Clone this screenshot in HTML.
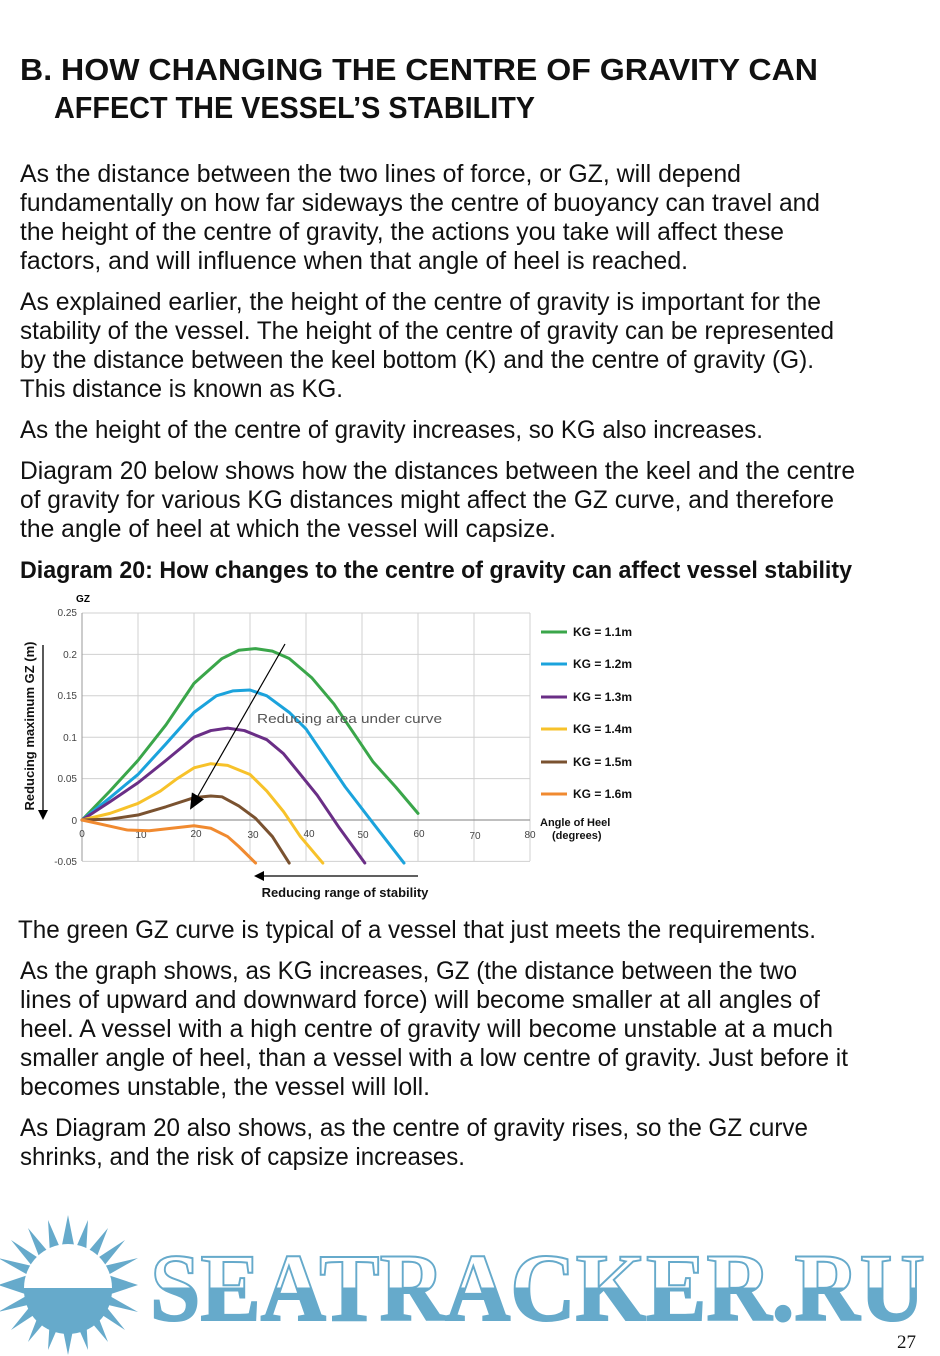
<!DOCTYPE html>
<html><head><meta charset="utf-8"><style>html,body{margin:0;padding:0;background:#fff}svg{display:block}</style></head><body>
<svg width="940" height="1356" viewBox="0 0 940 1356" xmlns="http://www.w3.org/2000/svg">
<defs>
<linearGradient id="lg" x1="0" y1="0" x2="0" y2="1"><stop offset="0.5" stop-color="#fff"/><stop offset="0.5" stop-color="#66aacb"/></linearGradient>
<marker id="ah" markerWidth="10" markerHeight="10" refX="8" refY="5" orient="auto" markerUnits="userSpaceOnUse"><path d="M0,0 L10,5 L0,10 z" fill="#000"/></marker>
<marker id="ah2" markerWidth="16" markerHeight="14" refX="14" refY="7" orient="auto" markerUnits="userSpaceOnUse"><path d="M0,0 L16,7 L0,14 z" fill="#000"/></marker>
</defs>
<g font-family="Liberation Sans, sans-serif" fill="#111">
<g font-weight="bold" font-size="31">
<text x="20" y="80" textLength="798" lengthAdjust="spacingAndGlyphs">B. HOW CHANGING THE CENTRE OF GRAVITY CAN</text>
<text x="54" y="118" textLength="481" lengthAdjust="spacingAndGlyphs">AFFECT THE VESSEL’S STABILITY</text>
</g>
<g font-size="25">
<text x="20" y="182" textLength="721" lengthAdjust="spacingAndGlyphs">As the distance between the two lines of force, or GZ, will depend</text>
<text x="20" y="211" textLength="800" lengthAdjust="spacingAndGlyphs">fundamentally on how far sideways the centre of buoyancy can travel and</text>
<text x="20" y="240" textLength="764" lengthAdjust="spacingAndGlyphs">the height of the centre of gravity, the actions you take will affect these</text>
<text x="20" y="269" textLength="668" lengthAdjust="spacingAndGlyphs">factors, and will influence when that angle of heel is reached.</text>
<text x="20" y="310" textLength="801" lengthAdjust="spacingAndGlyphs">As explained earlier, the height of the centre of gravity is important for the</text>
<text x="20" y="339" textLength="814" lengthAdjust="spacingAndGlyphs">stability of the vessel. The height of the centre of gravity can be represented</text>
<text x="20" y="368" textLength="794" lengthAdjust="spacingAndGlyphs">by the distance between the keel bottom (K) and the centre of gravity (G).</text>
<text x="20" y="397" textLength="323" lengthAdjust="spacingAndGlyphs">This distance is known as KG.</text>
<text x="20" y="438" textLength="743" lengthAdjust="spacingAndGlyphs">As the height of the centre of gravity increases, so KG also increases.</text>
<text x="20" y="479" textLength="835" lengthAdjust="spacingAndGlyphs">Diagram 20 below shows how the distances between the keel and the centre</text>
<text x="20" y="508" textLength="814" lengthAdjust="spacingAndGlyphs">of gravity for various KG distances might affect the GZ curve, and therefore</text>
<text x="20" y="537" textLength="536" lengthAdjust="spacingAndGlyphs">the angle of heel at which the vessel will capsize.</text>
<text x="18" y="938" textLength="798" lengthAdjust="spacingAndGlyphs">The green GZ curve is typical of a vessel that just meets the requirements.</text>
<text x="20" y="979" textLength="777" lengthAdjust="spacingAndGlyphs">As the graph shows, as KG increases, GZ (the distance between the two</text>
<text x="20" y="1008" textLength="800" lengthAdjust="spacingAndGlyphs">lines of upward and downward force) will become smaller at all angles of</text>
<text x="20" y="1037" textLength="813" lengthAdjust="spacingAndGlyphs">heel. A vessel with a high centre of gravity will become unstable at a much</text>
<text x="20" y="1066" textLength="828" lengthAdjust="spacingAndGlyphs">smaller angle of heel, than a vessel with a low centre of gravity. Just before it</text>
<text x="20" y="1095" textLength="410" lengthAdjust="spacingAndGlyphs">becomes unstable, the vessel will loll.</text>
<text x="20" y="1136" textLength="788" lengthAdjust="spacingAndGlyphs">As Diagram 20 also shows, as the centre of gravity rises, so the GZ curve</text>
<text x="20" y="1165" textLength="445" lengthAdjust="spacingAndGlyphs">shrinks, and the risk of capsize increases.</text>
</g>
<text x="20" y="578" font-size="24" font-weight="bold" textLength="832" lengthAdjust="spacingAndGlyphs">Diagram 20: How changes to the centre of gravity can affect vessel stability</text>
</g>
<!-- chart -->
<g stroke="#d0d0d0" stroke-width="1">
<line x1="82" y1="613" x2="530" y2="613"/><line x1="82" y1="654.4" x2="530" y2="654.4"/><line x1="82" y1="695.8" x2="530" y2="695.8"/><line x1="82" y1="737.2" x2="530" y2="737.2"/><line x1="82" y1="778.6" x2="530" y2="778.6"/><line x1="82" y1="861.4" x2="530" y2="861.4"/>
<line x1="138" y1="613" x2="138" y2="861"/><line x1="194" y1="613" x2="194" y2="861"/><line x1="250" y1="613" x2="250" y2="861"/><line x1="306" y1="613" x2="306" y2="861"/><line x1="362" y1="613" x2="362" y2="861"/><line x1="418" y1="613" x2="418" y2="861"/><line x1="474" y1="613" x2="474" y2="861"/><line x1="530" y1="613" x2="530" y2="861"/>
</g>
<line x1="82" y1="613" x2="82" y2="861" stroke="#999"/>
<line x1="82" y1="820" x2="530" y2="820" stroke="#999" stroke-width="1.2"/>
<g font-family="Liberation Sans, sans-serif" font-size="10" fill="#444" text-anchor="end">
<text x="77" y="616">0.25</text><text x="77" y="658">0.2</text><text x="77" y="699">0.15</text><text x="77" y="741">0.1</text><text x="77" y="782">0.05</text><text x="77" y="824">0</text><text x="77" y="865">-0.05</text>
</g>
<g font-family="Liberation Sans, sans-serif" font-size="10" fill="#444" text-anchor="middle">
<text x="82" y="837">0</text><text x="141" y="838">10</text><text x="196" y="837">20</text><text x="253" y="838">30</text><text x="309" y="837">40</text><text x="363" y="838">50</text><text x="419" y="837">60</text><text x="475" y="839">70</text><text x="530" y="838">80</text>
</g>
<g transform="translate(82,820) scale(5.6,-828)" fill="none" stroke-width="3" stroke-linejoin="round" stroke-linecap="round">
<polyline vector-effect="non-scaling-stroke" stroke="#3aa64a" points="0,0 5,0.035 10,0.072 15,0.115 20,0.165 25,0.195 28,0.205 31,0.207 34,0.204 37,0.195 41,0.172 45,0.14 49,0.1 52,0.07 56,0.04 60,0.008"/>
<polyline vector-effect="non-scaling-stroke" stroke="#1ba3dc" points="0,0 5,0.027 10,0.055 15,0.092 20,0.13 24,0.15 27,0.156 30,0.157 33,0.15 37,0.13 40,0.11 44,0.07 47,0.04 52,-0.004 57.5,-0.052"/>
<polyline vector-effect="non-scaling-stroke" stroke="#6a2e86" points="0,0 5,0.022 10,0.045 15,0.072 20,0.1 23,0.108 26,0.111 29,0.108 33,0.097 36,0.08 39,0.055 42,0.03 46,-0.01 50.5,-0.052"/>
<polyline vector-effect="non-scaling-stroke" stroke="#f7c22a" points="0,0 5,0.008 10,0.02 14,0.035 17,0.05 20,0.063 23,0.068 26,0.066 30,0.055 33,0.035 36,0.01 39,-0.02 43,-0.052"/>
<polyline vector-effect="non-scaling-stroke" stroke="#7a5230" points="0,0 5,0.001 10,0.006 15,0.016 20,0.027 23,0.029 25,0.028 28,0.017 31,0.002 34,-0.02 37,-0.052"/>
<polyline vector-effect="non-scaling-stroke" stroke="#f08a30" points="0,0 4,-0.006 8,-0.012 12,-0.013 16,-0.01 20,-0.007 23,-0.01 26,-0.02 28,-0.032 31,-0.052"/>
</g>
<line x1="285" y1="644" x2="191" y2="808" stroke="#000" stroke-width="1.2" marker-end="url(#ah2)"/>
<text x="257" y="723" font-family="Liberation Sans, sans-serif" font-size="13" fill="#555" textLength="185" lengthAdjust="spacingAndGlyphs">Reducing area under curve</text>
<line x1="418" y1="876" x2="256" y2="876" stroke="#000" stroke-width="1.3" marker-end="url(#ah)"/>
<text x="345" y="897" text-anchor="middle" font-family="Liberation Sans, sans-serif" font-size="13" font-weight="bold" fill="#111">Reducing range of stability</text>
<text x="83" y="602" text-anchor="middle" font-family="Liberation Sans, sans-serif" font-size="10" font-weight="bold">GZ</text>
<text transform="translate(34,726) rotate(-90)" text-anchor="middle" font-family="Liberation Sans, sans-serif" font-size="13" font-weight="bold" fill="#111">Reducing maximum GZ (m)</text>
<line x1="43" y1="645" x2="43" y2="818" stroke="#000" stroke-width="1.3" marker-end="url(#ah)"/>
<g stroke-width="3">
<line x1="541" y1="632" x2="567" y2="632" stroke="#3aa64a"/><line x1="541" y1="664" x2="567" y2="664" stroke="#1ba3dc"/><line x1="541" y1="697" x2="567" y2="697" stroke="#6a2e86"/><line x1="541" y1="729" x2="567" y2="729" stroke="#f7c22a"/><line x1="541" y1="762" x2="567" y2="762" stroke="#7a5230"/><line x1="541" y1="794" x2="567" y2="794" stroke="#f08a30"/>
</g>
<g font-family="Liberation Sans, sans-serif" font-size="12" font-weight="bold" fill="#111">
<text x="573" y="636">KG = 1.1m</text><text x="573" y="668">KG = 1.2m</text><text x="573" y="701">KG = 1.3m</text><text x="573" y="733">KG = 1.4m</text><text x="573" y="766">KG = 1.5m</text><text x="573" y="798">KG = 1.6m</text>
<text x="540" y="826" font-size="11">Angle of Heel</text><text x="552" y="839" font-size="11">(degrees)</text>
</g>
<!-- logo -->
<g fill="#66aacb">
<polygon points="68,1215 75,1250 88,1220 86,1254 108,1228 96,1259 125,1240 104,1266 138,1258 108,1275 138,1285 108,1295 138,1312 104,1304 125,1330 96,1311 108,1342 86,1316 88,1350 75,1320 68,1355 61,1320 48,1350 50,1316 28,1342 40,1311 11,1330 32,1304 -2,1312 28,1295 -2,1285 28,1275 -2,1258 32,1266 11,1240 40,1259 28,1228 50,1254 48,1220 61,1250"/>
<circle cx="68" cy="1290" r="44"/>
</g>
<path d="M24,1288 A44,44 0 0 1 112,1288 Z" fill="#fff"/>
<text x="150" y="1320" font-family="Liberation Serif, serif" font-weight="bold" font-size="96" fill="url(#lg)" stroke="#66aacb" stroke-width="2" textLength="775" lengthAdjust="spacingAndGlyphs">SEATRACKER.RU</text>
<text x="897" y="1348" font-family="Liberation Serif, serif" font-size="19" fill="#111">27</text>
</svg>
</body></html>
